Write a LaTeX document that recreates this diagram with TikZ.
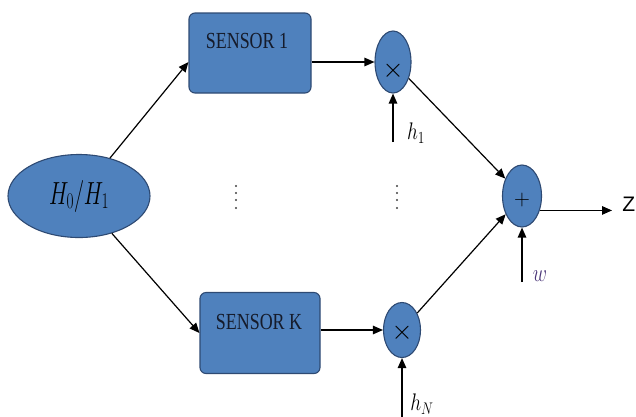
\RequirePackage{fix-cm}
\documentclass[tikz,border=0pt]{standalone}
\usepackage{graphicx}
\usepackage{fontspec}
\setmainfont{Liberation Serif}
\newfontfamily\labelsans{Liberation Sans}
\usetikzlibrary{shapes.geometric,arrows.meta,calc}
\definecolor{boxblue}{HTML}{4F81BD}
\definecolor{boxedge}{HTML}{2E4A73}
\definecolor{inkdark}{HTML}{151B2B}
\definecolor{wink}{HTML}{4A3578}

\begin{document}
\begin{tikzpicture}[x=1pt,y=-1pt,
  blk/.style={draw=boxedge, fill=boxblue, line width=1.1pt},
  sensorbox/.style={blk, rectangle, rounded corners=6pt, inner sep=0pt},
  oval/.style={blk, ellipse, inner sep=0pt},
  flow/.style={line width=1.2pt, -{Triangle[length=10pt,width=8.5pt]}},
  sensortext/.style={text=inkdark, inner sep=0pt},
  mathlabel/.style={inner sep=0pt}
]
\useasboundingbox (0,0) rectangle (636,416);

% hypothesis source
\node[oval, minimum width=142pt, minimum height=83pt] (hyp) at (79,196)
  {\scalebox{0.68}[1]{\fontsize{32}{34}\selectfont$H_0/H_1$}};

% sensors
\node[sensorbox, minimum width=122pt, minimum height=80pt] (s1) at (250,53) {};
\node[sensortext] (s1t) at (247,41) {\scalebox{0.78}[1]{\fontsize{23}{25}\selectfont SENSOR 1}};
\node[sensorbox, minimum width=120pt, minimum height=81pt] (s2) at (260,333) {};
\node[sensortext] (s2t) at (259,322) {\scalebox{0.78}[1]{\fontsize{23}{25}\selectfont SENSOR K}};

% multipliers and summer (operator signs sit a little below the centre)
\node[oval, minimum width=36pt, minimum height=62pt] (m1) at (393,62)
  {\raisebox{-15pt}[0pt][0pt]{\fontsize{27}{29}\selectfont$\times$}};
\node[oval, minimum width=37pt, minimum height=55pt] (m2) at (402,330)
  {\raisebox{-9pt}[0pt][0pt]{\fontsize{27}{29}\selectfont$\times$}};
\node[oval, minimum width=39pt, minimum height=62pt] (sum) at (522,196)
  {\raisebox{-9.5pt}[0pt][0pt]{\fontsize{22}{24}\selectfont$+$}};

% free ends of the input and output arrows
\coordinate (h1s) at (393,142);
\coordinate (hNs) at (402,418);
\coordinate (ws) at (522,282);
\coordinate (zend) at (612,210);

% connectors
\draw[flow] (hyp) -- ($(s1.west)+(0,9)$);
\draw[flow] (hyp) -- (s2.west);
\draw[flow] (s1.east |- m1.west) -- (m1.west);
\draw[flow] (s2.east |- m2.west) -- (m2.west);
\draw[flow] (m1) -- (sum);
\draw[flow] (m2) -- (sum);
\draw[flow] (h1s) -- (m1.south);
\draw[flow] (hNs) -- (m2.south);
\draw[flow] (ws) -- (sum.south);
\draw[flow] (sum.-39) -- (sum.-39 -| zend);

% labels
\node[mathlabel] (lh1) at (416,133) {\scalebox{0.8}[1]{\fontsize{24}{26}\selectfont$h_1$}};
\node[mathlabel] (lhN) at (422,404) {\scalebox{0.8}[1]{\fontsize{24}{26}\selectfont$h_N$}};
\node[mathlabel, text=wink] (lw) at (540,276) {\scalebox{0.78}[1]{\fontsize{25}{27}\selectfont$w$}};
\node[mathlabel, anchor=east] (lz) at (635.5,204) {\fontsize{21}{23}\labelsans Z};

% vertical ellipses between the sensor rows
\foreach \yy in {186,193,200,208} {
  \fill[black!75] (236,\yy) circle (1.1pt);
  \fill[black!75] (397,\yy) circle (1.1pt);
}
\end{tikzpicture}
\end{document}
